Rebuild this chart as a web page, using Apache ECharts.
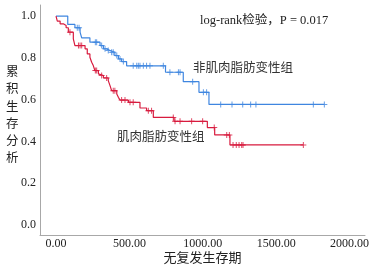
<!DOCTYPE html>
<html>
<head>
<meta charset="utf-8">
<script src="https://cdn.jsdelivr.net/npm/echarts@6/dist/echarts.min.js"></script>
<style>
  html, body { margin: 0; padding: 0; background: #fff; }
  #main { width: 374px; height: 268px; }
</style>
</head>
<body>
<div id="main"></div>
<script>
// 非肌肉脂肪变性组（蓝）: 事件时间与生存率
const blueTimes = [0, 80, 129, 164, 175, 231, 300, 323, 345, 368, 401, 425, 447, 481, 746, 867, 974, 1042, 1828];
const blueSurv = [1.0, 0.96, 0.944, 0.923, 0.896, 0.875, 0.859, 0.843, 0.835, 0.827, 0.811, 0.795, 0.782, 0.762, 0.731, 0.686, 0.635, 0.577, 0.577];
const blueCensor = [145, 157, 268, 277, 311, 334, 356, 379, 390, 414, 436, 459, 526, 550, 561, 572, 595, 617, 640, 731, 776, 834, 845, 931, 1004, 1026, 1122, 1199, 1272, 1326, 1362, 1753, 1828];

// 肌肉脂肪变性组（红）
const redTimes = [0, 9, 28, 50, 69, 84, 118, 129, 198, 213, 231, 243, 254, 265, 289, 300, 323, 356, 368, 379, 414, 425, 436, 493, 572, 617, 663, 804, 1031, 1081, 1185, 1685];
const redSurv = [1.0, 0.976, 0.963, 0.955, 0.944, 0.923, 0.891, 0.859, 0.843, 0.819, 0.803, 0.779, 0.763, 0.739, 0.723, 0.715, 0.704, 0.691, 0.667, 0.643, 0.627, 0.611, 0.598, 0.587, 0.56, 0.547, 0.515, 0.496, 0.466, 0.431, 0.383, 0.383];
const redCensor = [95, 153, 164, 175, 268, 277, 311, 345, 390, 401, 447, 470, 504, 526, 629, 651, 799, 811, 845, 924, 999, 1078, 1163, 1181, 1206, 1228, 1247, 1265, 1274, 1685];

const xTicks = [0, 500, 1000, 1500, 2000];
const yTicks = [0, 0.2, 0.4, 0.6, 0.8, 1.0];

const serif = '"Liberation Serif", "Noto Sans CJK SC", serif';
const plus = 'path://M-0.5,-3H0.5V-0.5H3V0.5H0.5V3H-0.5V0.5H-3V-0.5H-0.5Z';

function survAt(times, surv, t) {
  let s = surv[0];
  for (let i = 0; i < times.length; i++) {
    if (times[i] <= t) s = surv[i];
  }
  return s;
}

function curve(times, surv) {
  return times.map((t, i) => [t, surv[i]]);
}

function marks(times, surv, cens) {
  return cens.map(t => [t, survAt(times, surv, t)]);
}

const blue = '#3f86e0';
const red = '#d81b3e';

var myChart = echarts.init(document.getElementById('main'));
let option = {
  animation: false,
  grid: { left: 40, top: 5, right: 9, bottom: 33, containLabel: false, outerBoundsMode: 'none' },
  xAxis: {
    type: 'value',
    min: -109,
    max: 2105,
    name: '无复发生存期',
    nameLocation: 'middle',
    nameGap: 17,
    nameMoveOverlap: false,
    nameTextStyle: { fontFamily: serif, fontSize: 13, color: '#222' },
    splitLine: { show: false },
    axisTick: { show: false },
    axisLine: { show: true, onZero: false, lineStyle: { color: '#a8a8a8', width: 1 } },
    axisLabel: {
      customValues: xTicks,
      margin: 3,
      fontFamily: serif,
      fontSize: 12,
      color: '#222',
      formatter: v => v.toFixed(2)
    }
  },
  yAxis: {
    type: 'value',
    min: -0.048,
    max: 1.053,
    splitLine: { show: false },
    axisTick: { show: false },
    axisLine: { show: true, onZero: false, lineStyle: { color: '#a8a8a8', width: 1 } },
    axisLabel: {
      customValues: yTicks,
      margin: 4,
      fontFamily: serif,
      fontSize: 12,
      color: '#222',
      formatter: v => v.toFixed(1)
    }
  },
  graphic: [
    { type: 'text', left: 6, top: 64,
      style: { text: '累\n积\n生\n存\n分\n析', font: '12.5px ' + serif, lineHeight: 17.3, fill: '#222' } },
    { type: 'text', left: 200, top: 14,
      style: { text: 'log-rank检验，P = 0.017', font: '12.5px ' + serif, fill: '#222' } },
    { type: 'text', left: 193, top: 62,
      style: { text: '非肌肉脂肪变性组', font: '12.5px ' + serif, fill: '#333' } },
    { type: 'text', left: 117, top: 131,
      style: { text: '肌肉脂肪变性组', font: '12.5px ' + serif, fill: '#333' } }
  ],
  series: [
    { type: 'line', step: 'end', showSymbol: false, data: curve(blueTimes, blueSurv),
      lineStyle: { color: blue, width: 1.2 } },
    { type: 'line', step: 'end', showSymbol: false, data: curve(redTimes, redSurv),
      lineStyle: { color: red, width: 1.2 } },
    { type: 'scatter', symbol: plus, symbolSize: 6, data: marks(blueTimes, blueSurv, blueCensor),
      itemStyle: { color: blue } },
    { type: 'scatter', symbol: plus, symbolSize: 6, data: marks(redTimes, redSurv, redCensor),
      itemStyle: { color: red } }
  ]
};
myChart.setOption(option);
</script>
</body>
</html>
